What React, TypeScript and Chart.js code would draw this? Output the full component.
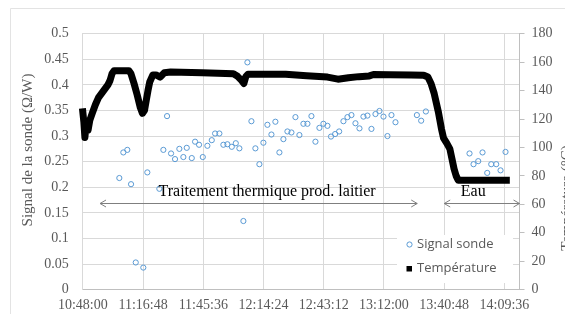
import React, { useEffect, useRef } from "react";
import { Chart, registerables } from "chart.js";

Chart.register(...registerables);

// ---------- data ----------
const signalTimes = [
  "11:05:28", "11:07:23", "11:09:17", "11:11:04", "11:13:19", "11:16:56", "11:18:51", "11:24:36",
  "11:26:31", "11:28:17", "11:30:12", "11:32:06", "11:34:10", "11:36:05", "11:37:42", "11:40:06",
  "11:41:41", "11:43:35", "11:45:22", "11:47:34", "11:49:40", "11:51:15", "11:53:18", "11:55:13",
  "11:57:08", "11:59:14", "12:01:09", "12:02:52", "12:04:47", "12:06:42", "12:08:37", "12:10:31",
  "12:12:26", "12:14:21", "12:16:16", "12:18:11", "12:20:05", "12:22:00", "12:23:55", "12:25:50",
  "12:27:45", "12:29:40", "12:31:34", "12:33:29", "12:35:24", "12:37:19", "12:39:14", "12:41:08",
  "12:43:03", "12:44:58", "12:46:40", "12:48:39", "12:50:34", "12:52:37", "12:54:32", "12:56:27",
  "12:58:22", "13:00:17", "13:02:11", "13:04:06", "13:06:01", "13:07:56", "13:09:51", "13:11:46",
  "13:13:40", "13:15:35", "13:17:30", "13:27:44", "13:29:47", "13:32:02", "13:52:54", "13:54:49",
  "13:57:04", "13:59:07", "14:01:22", "14:03:17", "14:05:40", "14:07:44", "14:10:07",
];
const signalValues = [
  0.218, 0.268, 0.273, 0.206, 0.053, 0.043, 0.229, 0.197,
  0.273, 0.339, 0.266, 0.255, 0.275, 0.259, 0.277, 0.257,
  0.289, 0.283, 0.259, 0.281, 0.292, 0.305, 0.305, 0.283,
  0.284, 0.279, 0.286, 0.276, 0.134, 0.444, 0.329, 0.276,
  0.245, 0.287, 0.322, 0.303, 0.328, 0.268, 0.294, 0.309,
  0.307, 0.337, 0.302, 0.324, 0.324, 0.339, 0.289, 0.316,
  0.324, 0.320, 0.299, 0.304, 0.309, 0.329, 0.337, 0.341,
  0.325, 0.315, 0.338, 0.340, 0.314, 0.343, 0.349, 0.338,
  0.300, 0.341, 0.327, 0.341, 0.330, 0.348, 0.266, 0.245,
  0.251, 0.268, 0.228, 0.245, 0.245, 0.233, 0.269,
];

const tempTimes = [
  "10:48:00", "10:48:30", "10:49:00", "10:49:40", "10:50:30", "10:51:20", "10:52:30", "10:54:00",
  "10:55:30", "10:57:00", "10:58:30", "11:00:00", "11:01:00", "11:02:00", "11:03:00", "11:10:00",
  "11:11:00", "11:12:30", "11:14:00", "11:15:30", "11:16:30", "11:17:30", "11:18:20", "11:19:10",
  "11:20:00", "11:21:30", "11:23:00", "11:25:00", "11:27:00", "11:30:00", "11:45:00", "12:00:00",
  "12:02:00", "12:04:00", "12:05:00", "12:06:00", "12:07:00", "12:15:00", "12:25:00", "12:35:00",
  "12:45:00", "12:50:00", "12:55:00", "13:00:00", "13:05:00", "13:07:00", "13:15:00", "13:25:00",
  "13:31:00", "13:33:00", "13:34:30", "13:36:00", "13:38:00", "13:39:30", "13:40:30", "13:42:00",
  "13:43:30", "13:44:30", "13:45:30", "13:46:30", "13:47:30", "14:10:30",
];
const tempValues = [
  125, 118, 107, 117, 112, 119, 124, 130,
  135, 138, 141, 144, 147, 152, 154, 154,
  152, 145, 137, 128, 124, 126, 133, 140,
  146, 151, 151, 149.5, 152.5, 153, 152.5, 151.8,
  150, 147, 145, 150, 151.5, 151.5, 151.5, 150.5,
  149.5, 148, 149, 149.8, 150.3, 151.3, 151.2, 151,
  150.8, 149.5, 145, 138, 125, 113, 106.5, 103,
  99, 92, 85, 80, 77, 77,
];

const xTickLabels = ["10:48:00", "11:16:48", "11:45:36", "12:14:24", "12:43:12", "13:12:00", "13:40:48", "14:09:36"];
const xMaxLabel = "14:16:48";
const leftTickLabels = ["0", "0.05", "0.1", "0.15", "0.2", "0.25", "0.3", "0.35", "0.4", "0.45", "0.5"];
const rightTickLabels = ["0", "20", "40", "60", "80", "100", "120", "140", "160", "180"];

const yTitle = "Signal de la sonde (\u03A9/W)";
const y1Title = "Température (°C)";
const legendLabels = ["Signal sonde", "Température"];

// annotation anchors (time, temperature-axis value)
const zone1Label = "Traitement thermique prod. laitier";
const zone1Start = "10:56:14";
const zone1End = "13:27:54";
const zone1TextAt = "12:16:07";
const zone2Label = "Eau";
const zone2Start = "13:40:48";
const zone2End = "14:16:48";
const zone2TextAt = "13:54:40";
const arrowLevel = 61;
const textLevel = 68.5;

// ---------- helpers ----------
const BASE = 10 * 3600 + 48 * 60;
const toMin = (s: string) => {
  const [h, m, sec] = s.split(":").map(Number);
  return (h * 3600 + m * 60 + sec - BASE) / 60;
};

const SERIF = "'Liberation Serif', 'Times New Roman', serif";
const SANS = "'Open Sans', 'Liberation Sans', sans-serif";
const GRID = "#d9d9d9";
const AXIS = "#bfbfbf";
const TXT = "#595959";
const BLUE = "#5b9bd5";

const W = 565;
const H = 314;
const AREA = { left: 82.8, right: 519.5, top: 33.7, bottom: 289.6 };

const overlay = {
  id: "overlay",
  beforeDraw(chart: any) {
    const ctx = chart.ctx;
    ctx.save();
    ctx.fillStyle = "#ffffff";
    ctx.fillRect(0, 0, W, H);
    ctx.strokeStyle = "#e3e3e3";
    ctx.lineWidth = 1;
    ctx.beginPath();
    ctx.moveTo(10.5, H + 5);
    ctx.lineTo(10.5, 8.5);
    ctx.lineTo(W + 5, 8.5);
    ctx.stroke();
    ctx.restore();
  },
  afterDraw(chart: any) {
    const ctx = chart.ctx;
    const x = chart.scales.x;
    const y1 = chart.scales.y1;
    ctx.save();

    // axis titles
    ctx.fillStyle = TXT;
    ctx.font = `15px ${SERIF}`;
    ctx.textAlign = "center";
    ctx.textBaseline = "middle";
    ctx.save();
    ctx.translate(28, 150);
    ctx.rotate(-Math.PI / 2);
    ctx.fillText(yTitle, 0, 0);
    ctx.restore();
    ctx.save();
    ctx.translate(567, 198);
    ctx.rotate(-Math.PI / 2);
    ctx.fillText(y1Title, 0, 0);
    ctx.restore();

    // double arrows
    const drawDouble = (a: string, b: string) => {
      const xa = x.getPixelForValue(toMin(a));
      const xb = x.getPixelForValue(toMin(b));
      const yy = Math.round(y1.getPixelForValue(arrowLevel)) + 0.5;
      ctx.strokeStyle = "#7f7f7f";
      ctx.lineWidth = 1;
      ctx.beginPath();
      ctx.moveTo(xa, yy);
      ctx.lineTo(xb, yy);
      ctx.moveTo(xa + 6, yy - 3.5);
      ctx.lineTo(xa, yy);
      ctx.lineTo(xa + 6, yy + 3.5);
      ctx.moveTo(xb - 6, yy - 3.5);
      ctx.lineTo(xb, yy);
      ctx.lineTo(xb - 6, yy + 3.5);
      ctx.stroke();
    };
    drawDouble(zone1Start, zone1End);
    drawDouble(zone2Start, zone2End);

    ctx.fillStyle = "#000000";
    ctx.font = `16px ${SERIF}`;
    ctx.textAlign = "center";
    ctx.textBaseline = "middle";
    ctx.fillText(zone1Label, x.getPixelForValue(toMin(zone1TextAt)), y1.getPixelForValue(textLevel));
    ctx.fillText(zone2Label, x.getPixelForValue(toMin(zone2TextAt)), y1.getPixelForValue(textLevel));

    // legend
    ctx.fillStyle = "#ffffff";
    ctx.fillRect(397, 235, 116, 48);
    ctx.strokeStyle = BLUE;
    ctx.lineWidth = 1;
    ctx.beginPath();
    ctx.arc(409.5, 244.5, 2.6, 0, Math.PI * 2);
    ctx.stroke();
    ctx.fillStyle = "#000000";
    ctx.fillRect(406.5, 266, 5.5, 5.5);
    ctx.fillStyle = TXT;
    ctx.font = `13px ${SANS}`;
    ctx.textAlign = "left";
    ctx.textBaseline = "middle";
    ctx.fillText(legendLabels[0], 417, 244.5);
    ctx.fillText(legendLabels[1], 417, 268.5);

    ctx.restore();
  },
};

export default function App() {
  const ref = useRef<HTMLCanvasElement | null>(null);

  useEffect(() => {
    if (!ref.current) return;
    const chart = new Chart(ref.current, {
      type: "scatter",
      data: {
        datasets: [
          {
            type: "line",
            label: legendLabels[1],
            data: tempTimes.map((t, i) => ({ x: toMin(t), y: tempValues[i] })),
            yAxisID: "y1",
            borderColor: "#000000",
            backgroundColor: "#000000",
            borderWidth: 7,
            pointRadius: 0,
            tension: 0,
            borderJoinStyle: "round",
            borderCapStyle: "square",
            clip: 4,
            order: 2,
          } as any,
          {
            type: "scatter",
            label: legendLabels[0],
            data: signalTimes.map((t, i) => ({ x: toMin(t), y: signalValues[i] })),
            yAxisID: "y",
            borderColor: BLUE,
            backgroundColor: "rgba(0,0,0,0)",
            borderWidth: 1,
            pointRadius: 2.6,
            pointStyle: "circle",
            order: 1,
          } as any,
        ],
      },
      options: {
        animation: false,
        responsive: false,
        devicePixelRatio: 1,
        layout: { padding: { top: AREA.top, left: 0, right: 0, bottom: 0 } },
        plugins: { legend: { display: false }, tooltip: { enabled: false } },
        scales: {
          x: {
            type: "linear",
            min: toMin(xTickLabels[0]),
            max: toMin(xMaxLabel),
            afterBuildTicks: (s: any) => {
              s.ticks = xTickLabels.map((l) => ({ value: toMin(l) }));
            },
            afterFit: (s: any) => {
              s.height = H - AREA.bottom;
            },
            grid: { color: GRID, drawTicks: false, lineWidth: 1 },
            border: { display: true, color: AXIS },
            ticks: {
              autoSkip: false,
              maxRotation: 0,
              padding: 7,
              color: TXT,
              font: { family: SERIF, size: 14 },
              callback: (_v: any, i: number) => xTickLabels[i],
            },
          },
          y: {
            type: "linear",
            position: "left",
            min: 0,
            max: 0.5,
            afterBuildTicks: (s: any) => {
              s.ticks = leftTickLabels.map((l) => ({ value: parseFloat(l) }));
            },
            afterFit: (s: any) => {
              s.width = AREA.left;
            },
            grid: { color: GRID, drawTicks: false },
            border: { display: true, color: GRID },
            ticks: {
              padding: 14,
              color: TXT,
              font: { family: SERIF, size: 14 },
              callback: (_v: any, i: number) => leftTickLabels[i],
            },
          },
          y1: {
            type: "linear",
            position: "right",
            min: 0,
            max: 180,
            afterBuildTicks: (s: any) => {
              s.ticks = rightTickLabels.map((l) => ({ value: parseFloat(l) }));
            },
            afterFit: (s: any) => {
              s.width = W - AREA.right;
            },
            grid: { drawOnChartArea: false, drawTicks: true, tickLength: 5, color: AXIS },
            border: { display: true, color: AXIS },
            ticks: {
              padding: 7,
              color: TXT,
              font: { family: SERIF, size: 14 },
              callback: (_v: any, i: number) => rightTickLabels[i],
            },
          },
        },
      } as any,
      plugins: [overlay],
    });
    return () => chart.destroy();
  }, []);

  return (
    <div style={{ position: "fixed", left: 0, top: 0, width: W, height: H, background: "#fff" }}>
      <canvas ref={ref} width={W} height={H} style={{ display: "block", width: W, height: H }} />
    </div>
  );
}
